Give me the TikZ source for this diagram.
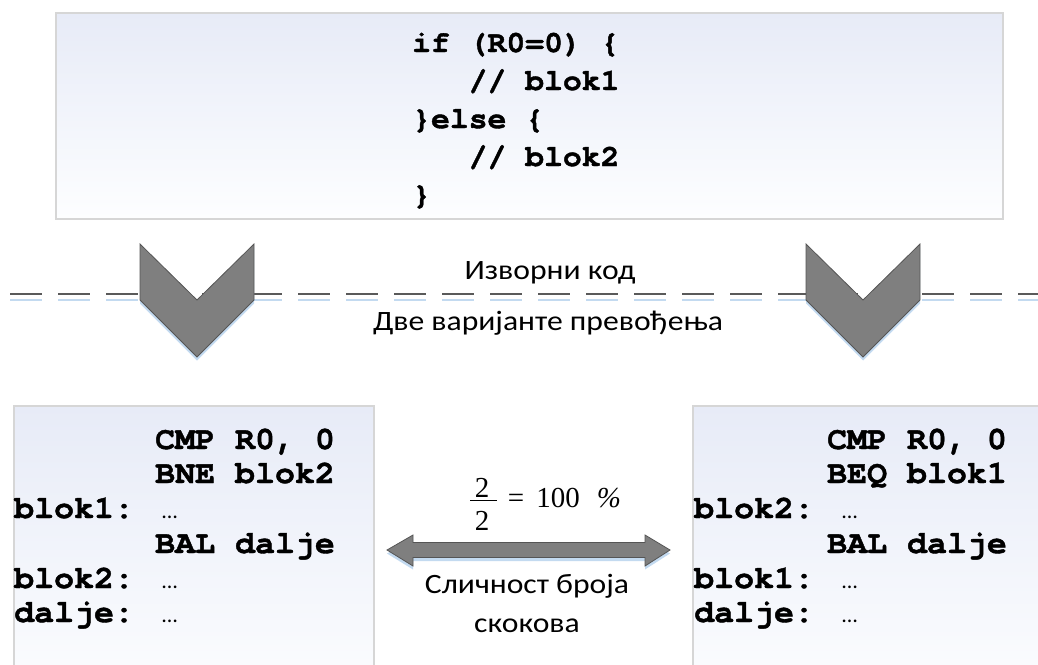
\documentclass[tikz,border=0pt]{standalone}
\usepackage{fontspec}
\setmainfont{Carlito}
\newfontfamily\codefont{TeX Gyre Cursor}[FakeStretch=1.04, BoldFeatures={FakeBold=1.3}]
\newfontfamily\capfont[FakeStretch=1.13]{Carlito}
\newfontfamily\mathtextfont{Liberation Serif}
\definecolor{paneltop}{HTML}{E7EBF7}
\definecolor{panelbot}{HTML}{FDFEFF}
\definecolor{panelline}{HTML}{D6D6D6}
\definecolor{shapefill}{HTML}{7F7F7F}
\definecolor{shapeline}{HTML}{555555}
\definecolor{glow}{HTML}{C3DAF0}
\definecolor{dashgray}{HTML}{5A5A5A}
\tikzset{
  panel/.style={draw=panelline, line width=1.5pt, top color=paneltop,
    bottom color=panelbot, anchor=north west, inner sep=0pt, outer sep=0pt},
  codeline/.style={font=\codefont\bfseries\fontsize{32}{32}\selectfont,
    anchor=base west, inner sep=0pt},
  srcline/.style={font=\codefont\bfseries\fontsize{30.2}{30.2}\selectfont,
    anchor=base west, inner sep=0pt},
  ellip/.style={font=\fontsize{22}{22}\selectfont, anchor=base west, inner sep=0pt},
  caption/.style={font=\capfont\fontsize{28}{28}\selectfont, anchor=base, inner sep=0pt},
  mathtext/.style={font=\mathtextfont\fontsize{29}{29}\selectfont, anchor=base, inner sep=0pt},
  bigshape/.style={fill=shapefill, draw=shapeline, line width=0.8pt, line join=miter},
  glowshape/.style={fill=glow},
  dashline/.style={draw=dashgray, line width=2.2pt, dash pattern=on 32pt off 16pt},
  glowline/.style={draw=glow, line width=2pt, dash pattern=on 32pt off 16pt},
}
% chevron pointing down, centred on x = #1
\newcommand\chevronpath[1]{(#1-57,244) -- (#1,300) -- (#1+57,244) -- (#1+57,300)
    -- (#1,357) -- (#1-57,300) -- cycle}
\newcommand\twowaypath{(387,550) -- (413,535) -- (413,542.5) -- (645,542.5) -- (645,535)
  -- (670,550) -- (645,566) -- (645,557.5) -- (413,557.5) -- (413,566) -- cycle}
\begin{document}
\begin{tikzpicture}[x=1pt,y=-1pt]
\useasboundingbox (0,0) rectangle (1038,664);
\clip (0,0) rectangle (1038,664);

% panels
\node[panel, minimum width=947pt, minimum height=206pt] (src) at (56,13) {};
\node[panel, minimum width=360pt, minimum height=300pt] (left) at (14,406) {};
\node[panel, minimum width=360pt, minimum height=300pt] (right) at (693,406) {};

% source code
\node[srcline] (s1) at (412,52) {if (R0=0) \{};
\node[srcline] (s2) at (468.5,90) {// blok1};
\node[srcline] (s3) at (412,128) {\}else \{};
\node[srcline] (s4) at (468.5,166) {// blok2};
\node[srcline] (s5) at (412,204) {\}};

% left translation
\node[codeline] (a1) at (155,449) {CMP R0, 0};
\node[codeline] (a2) at (155,483) {BNE blok2};
\node[codeline] (a3) at (14,518) {blok1:};
\node[ellip]    (a3e) at (162,518) {…};
\node[codeline] (a4) at (155,553) {BAL dalje};
\node[codeline] (a5) at (14,588) {blok2:};
\node[ellip]    (a5e) at (162,588) {…};
\node[codeline] (a6) at (14,622) {dalje:};
\node[ellip]    (a6e) at (162,622) {…};

% right translation
\node[codeline] (b1) at (827,449) {CMP R0, 0};
\node[codeline] (b2) at (827,483) {BEQ blok1};
\node[codeline] (b3) at (694,518) {blok2:};
\node[ellip]    (b3e) at (842,518) {…};
\node[codeline] (b4) at (827,553) {BAL dalje};
\node[codeline] (b5) at (694,588) {blok1:};
\node[ellip]    (b5e) at (842,588) {…};
\node[codeline] (b6) at (694,622) {dalje:};
\node[ellip]    (b6e) at (842,622) {…};

% separator line
\path[glowline] (10,299.5) -- (1060,299.5);
\path[dashline] (10,294) -- (1060,294);

% chevrons
\foreach \cx in {197,863}{
  \path[glowshape, yshift=-3.5pt] \chevronpath{\cx};
  \path[bigshape] \chevronpath{\cx};
}

% labels around the separator
\node[caption] (up) at (550,279) {Изворни код};
\node[caption] (down) at (548,330) {Две варијанте превођења};

% double arrow between the translations
\path[glowshape, yshift=-3.5pt] \twowaypath;
\path[bigshape] \twowaypath;

% ratio above the arrow
\node[mathtext] (num) at (482,497) {2};
\node[mathtext] (den) at (482,530) {2};
\draw[line width=1pt] (470,500) -- (497,500);
\node[mathtext] (eq) at (516,507) {=};
\node[mathtext] (pct) at (558,507) {100};
\node[mathtext] (sign) at (609,507) {\itshape \%};

\node[caption] (sim1) at (527,593) {Сличност броја};
\node[caption] (sim2) at (527,632) {скокова};
\end{tikzpicture}
\end{document}
